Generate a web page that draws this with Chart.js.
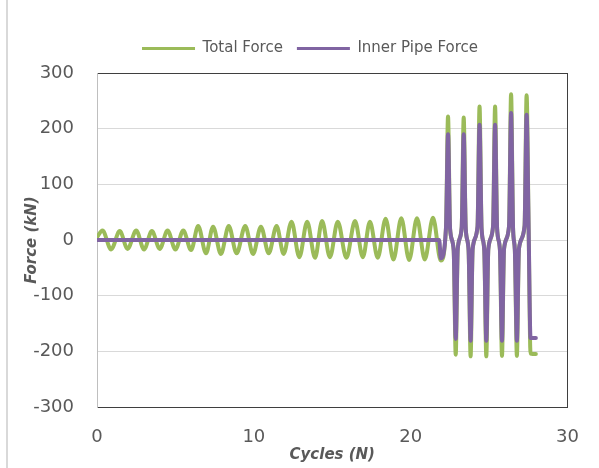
<!DOCTYPE html>
<html><head><meta charset="utf-8">
<script src="https://cdn.jsdelivr.net/npm/chart.js@4.4.1/dist/chart.umd.min.js"></script>
<style>html,body{margin:0;padding:0;background:#fff;overflow:hidden}
#wrap{position:relative;width:599px;height:468px}
#frame{position:absolute;left:6px;top:0;width:2px;height:468px;background:#d9d9d9}
canvas{position:absolute;left:0;top:0}
</style></head><body><div id="wrap"><canvas id="c" width="599" height="468"></canvas><div id="frame"></div></div>
<script>
const seriesNames = ['Total Force', 'Inner Pipe Force'];
const xTitle = 'Cycles (N)';
const yTitle = 'Force (kN)';
const xTickValues = [0, 10, 20, 30];
const yTickValues = [-300, -200, -100, 0, 100, 200, 300];

// Total force (green): small cycles then large spikes
const totalX = [0, 0.35, 0.9, 1.45, 1.95, 2.5, 3.0, 3.5, 4.0, 4.5, 5.0, 5.5, 6.0, 6.45, 6.95, 7.4, 7.9, 8.4, 8.9, 9.45, 9.95, 10.45, 10.95, 11.45, 11.9, 12.4, 12.9, 13.4, 13.9, 14.35, 14.85, 15.35, 15.9, 16.45, 16.95, 17.4, 17.9, 18.4, 18.9, 19.4, 19.9, 20.4, 20.9, 21.42, 21.92,
  22.25, 22.38, 22.51, 22.74, 22.87, 23.00, 23.25, 23.38, 23.51, 23.69, 23.82, 23.95, 24.26, 24.39, 24.52, 24.69, 24.82, 24.95, 25.25, 25.38, 25.51, 25.69, 25.82, 25.95, 26.27, 26.40, 26.53, 26.64, 26.77, 26.90, 27.26, 27.39, 27.52, 27.64, 27.98];
const totalY = [5, 17, -17, 16, -16, 17, -17, 16, -16, 17, -17, 17, -18, 25, -24, 24, -25, 25, -24, 25, -25, 24, -24, 25, -25, 33, -31, 33, -32, 34, -31, 33, -32, 34, -31, 33, -32, 38, -35, 39, -36, 39, -35, 40, -37,
  22, 222, 20, -18, -206, -16, 22, 220, 20, -18, -209, -16, 24, 240, 20, -18, -209, -16, 24, 240, 20, -18, -208, -16, 25, 262, 18, -18, -208, -16, 25, 260, 18, -204, -205];

// Inner pipe force (purple): zero, then spikes
const innerX = [0, 21.82, 21.92,
  22.25, 22.38, 22.51, 22.74, 22.87, 23.00, 23.25, 23.38, 23.51, 23.69, 23.82, 23.95, 24.26, 24.39, 24.52, 24.69, 24.82, 24.95, 25.25, 25.38, 25.51, 25.69, 25.82, 25.95, 26.27, 26.40, 26.53, 26.64, 26.77, 26.90, 27.26, 27.39, 27.52, 27.64, 27.98];
const innerY = [0, 0, -33,
  22, 190, 20, -18, -178, -16, 22, 190, 20, -18, -181, -16, 24, 207, 20, -18, -181, -16, 24, 207, 20, -18, -181, -16, 25, 228, 18, -18, -181, -16, 25, 225, 18, -176, -176];

const GREEN = '#9bbb59';
const PURPLE = '#8064a2';
const TXT = '#595959';
const DARK = '#3f3f3f';
const FONT = 'DejaVu Sans';

const pts = (xs, ys) => xs.map((x, i) => ({x: x, y: ys[i]}));

new Chart(document.getElementById('c'), {
  type: 'line',
  data: {
    datasets: [
      {label: seriesNames[0], data: pts(totalX, totalY), borderColor: GREEN, backgroundColor: GREEN, borderWidth: 4, pointRadius: 0, cubicInterpolationMode: 'monotone', borderJoinStyle: 'round', borderCapStyle: 'round', order: 1},
      {label: seriesNames[1], data: pts(innerX, innerY), borderColor: PURPLE, backgroundColor: PURPLE, borderWidth: 4, pointRadius: 0, cubicInterpolationMode: 'monotone', borderJoinStyle: 'round', borderCapStyle: 'round', order: 0}
    ]
  },
  options: {
    responsive: false,
    animation: false,
    layout: {padding: {left: 30, right: 9, top: 27, bottom: 0}},
    plugins: {
      tooltip: {enabled: false},
      legend: {
        position: 'top',
        labels: {
          boxWidth: 53, boxHeight: 3, padding: 14, color: TXT,
          font: {family: FONT, size: 15},
          sort: (a, b) => a.datasetIndex - b.datasetIndex,
          generateLabels: (chart) => Chart.defaults.plugins.legend.labels.generateLabels(chart).map(l => Object.assign(l, {lineWidth: 0}))
        }
      }
    },
    scales: {
      x: {
        type: 'linear', position: 'bottom', min: 0, max: 30,
        afterBuildTicks: (s) => { s.ticks = xTickValues.map(v => ({value: v})); },
        afterFit: (s) => { s.height = 61; },
        grid: {display: false, drawTicks: false},
        border: {display: true, color: DARK, width: 1},
        ticks: {padding: 20, color: TXT, font: {family: FONT, size: 18}, maxRotation: 0},
        title: {display: true, text: xTitle, color: TXT, font: {family: FONT, size: 15, weight: 'bold', style: 'italic'}, padding: {top: 0, bottom: 4}}
      },
      x2: {
        type: 'linear', position: 'top', min: 0, max: 30,
        afterFit: (s) => { s.height = 7; },
        grid: {display: false, drawTicks: false},
        border: {display: true, color: DARK, width: 1},
        ticks: {display: false}
      },
      y: {
        type: 'linear', position: 'left', min: -300, max: 300,
        afterBuildTicks: (s) => { s.ticks = yTickValues.map(v => ({value: v})); },
        afterFit: (s) => { s.width = 67; },
        grid: {color: '#d9d9d9', lineWidth: 1, drawTicks: false},
        border: {display: true, color: '#bfbfbf', width: 1},
        ticks: {padding: 23, color: TXT, font: {family: FONT, size: 18}},
        title: {display: true, text: yTitle, color: TXT, font: {family: FONT, size: 15, weight: 'bold', style: 'italic'}, padding: {top: -7, bottom: 0}}
      },
      y2: {
        type: 'linear', position: 'right', min: -300, max: 300,
        afterFit: (s) => { s.width = 20; },
        grid: {display: false, drawTicks: false},
        border: {display: true, color: DARK, width: 1},
        ticks: {display: false}
      }
    }
  }
});
</script></body></html>
